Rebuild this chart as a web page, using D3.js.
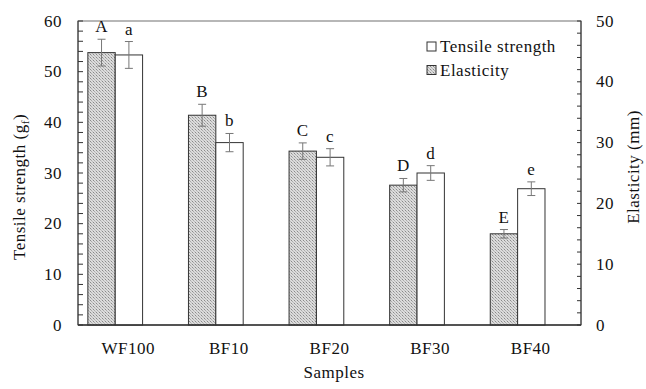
<!DOCTYPE html>
<html>
<head>
<meta charset="utf-8">
<script src="https://cdn.jsdelivr.net/npm/d3@7"></script>
<style>
  body { margin: 0; background: #fff; }
  text { font-family: "Liberation Serif", "Times New Roman", serif; fill: #111; font-size: 17px; letter-spacing: 0.5px; }
</style>
</head>
<body>
<div id="chart"></div>
<script>
// data
var samples = ["WF100", "BF10", "BF20", "BF30", "BF40"];
var elasticity = [44.8, 34.5, 28.6, 23.0, 15.0];        // mm, right axis (hatched)
var elasticityErr = [2.2, 1.8, 1.35, 1.1, 0.7];
var elasticityLetters = ["A", "B", "C", "D", "E"];
var tensile = [53.3, 36.0, 33.1, 30.0, 26.9];           // gf, left axis (white)
var tensileErr = [2.65, 1.8, 1.7, 1.45, 1.35];
var tensileLetters = ["a", "b", "c", "d", "e"];
var leftTicks = [0, 10, 20, 30, 40, 50, 60];
var rightTicks = [0, 10, 20, 30, 40, 50];

var width = 646, height = 389;
var margin = {top: 21, right: 65, bottom: 64, left: 78};
var iw = width - margin.left - margin.right;
var ih = height - margin.top - margin.bottom;

var svg = d3.select("#chart").append("svg")
    .attr("width", width).attr("height", height);

var defs = svg.append("defs");
var pat = defs.append("pattern")
    .attr("id", "hatch").attr("patternUnits", "userSpaceOnUse")
    .attr("width", 3).attr("height", 3);
pat.append("rect").attr("width", 3).attr("height", 3).attr("fill", "#dcdcdc");
pat.append("rect").attr("x", 0).attr("y", 0).attr("width", 1).attr("height", 1).attr("fill", "#8a8a8a");
pat.append("rect").attr("x", 1).attr("y", 1).attr("width", 1).attr("height", 1).attr("fill", "#aaa");
pat.append("rect").attr("x", 2).attr("y", 2).attr("width", 1).attr("height", 1).attr("fill", "#bbb");

var g = svg.append("g").attr("transform", "translate(" + margin.left + "," + margin.top + ")");

var x = d3.scaleBand().domain(samples).range([0, iw]).padding(0);
var yL = d3.scaleLinear().domain([0, 60]).range([ih, 0]);
var yR = d3.scaleLinear().domain([0, 50]).range([ih, 0]);
var bw = x.bandwidth();
var barW = bw * 0.272;
var off = bw * 0.098;

// frame
g.append("rect").attr("width", iw).attr("height", ih)
    .attr("fill", "none").attr("stroke", "#888").attr("stroke-width", 1.2);

// hatched bars (elasticity)
g.selectAll(".el").data(samples).enter().append("rect")
    .attr("x", function(d){ return x(d) + off; })
    .attr("y", function(d, i){ return yR(elasticity[i]); })
    .attr("width", barW)
    .attr("height", function(d, i){ return ih - yR(elasticity[i]); })
    .attr("fill", "url(#hatch)").attr("stroke", "#333").attr("stroke-width", 1);

// white bars (tensile)
g.selectAll(".ts").data(samples).enter().append("rect")
    .attr("x", function(d){ return x(d) + off + barW; })
    .attr("y", function(d, i){ return yL(tensile[i]); })
    .attr("width", barW)
    .attr("height", function(d, i){ return ih - yL(tensile[i]); })
    .attr("fill", "#fff").attr("stroke", "#333").attr("stroke-width", 1);

function errBar(cx, yTop, yBot) {
    var e = g.append("g").attr("stroke", "#777").attr("stroke-width", 1);
    e.append("line").attr("x1", cx).attr("x2", cx).attr("y1", yTop).attr("y2", yBot);
    e.append("line").attr("x1", cx - 4).attr("x2", cx + 4).attr("y1", yTop).attr("y2", yTop);
    e.append("line").attr("x1", cx - 4).attr("x2", cx + 4).attr("y1", yBot).attr("y2", yBot);
}

samples.forEach(function(s, i){
    var c1 = x(s) + off + barW / 2;
    var c2 = x(s) + off + barW * 1.5;
    var t1 = yR(elasticity[i] + elasticityErr[i]);
    var t2 = yL(tensile[i] + tensileErr[i]);
    errBar(c1, t1, yR(elasticity[i] - elasticityErr[i]));
    errBar(c2, t2, yL(tensile[i] - tensileErr[i]));
    g.append("text").attr("x", c1).attr("y", t1 - 7).attr("text-anchor", "middle").text(elasticityLetters[i]);
    g.append("text").attr("x", c2).attr("y", t2 - 7).attr("text-anchor", "middle").text(tensileLetters[i]);
});

// left axis
var la = g.append("g");
la.append("line").attr("x1", 0).attr("x2", 0).attr("y1", 0).attr("y2", ih).attr("stroke", "#333");
la.selectAll(".mn").data(d3.range(0, 61, 2)).enter().append("line")
    .attr("x1", 0).attr("x2", 5).attr("y1", function(d){ return yL(d); }).attr("y2", function(d){ return yL(d); })
    .attr("stroke", "#333");
la.selectAll(".lb").data(leftTicks).enter().append("text")
    .attr("x", -16).attr("y", function(d){ return yL(d) + 5.5; })
    .attr("text-anchor", "end").text(function(d){ return d; });

// right axis
var ra = g.append("g").attr("transform", "translate(" + iw + ",0)");
ra.append("line").attr("x1", 0).attr("x2", 0).attr("y1", 0).attr("y2", ih).attr("stroke", "#333");
ra.selectAll(".mn").data(d3.range(0, 51, 2)).enter().append("line")
    .attr("x1", -4).attr("x2", 0).attr("y1", function(d){ return yR(d); }).attr("y2", function(d){ return yR(d); })
    .attr("stroke", "#333");
ra.selectAll(".lb").data(rightTicks).enter().append("text")
    .attr("x", 15).attr("y", function(d){ return yR(d) + 5.5; })
    .attr("text-anchor", "start").text(function(d){ return d; });

// bottom axis
g.append("line").attr("x1", 0).attr("x2", iw).attr("y1", ih).attr("y2", ih).attr("stroke", "#333").attr("stroke-width", 1.3);
g.selectAll(".xl").data(samples).enter().append("text")
    .attr("x", function(d){ return x(d) + bw / 2; })
    .attr("y", ih + 29).attr("text-anchor", "middle").text(function(d){ return d; });

// axis titles
svg.append("text").attr("x", 334).attr("y", 378)
    .attr("text-anchor", "middle").text("Samples");
var lt = svg.append("text")
    .attr("transform", "translate(25,187) rotate(-90)")
    .attr("text-anchor", "middle");
lt.append("tspan").text("Tensile strength (g");
lt.append("tspan").attr("dy", 4).style("font-size", "11px").text("f");
lt.append("tspan").attr("dy", -4).text(")");
svg.append("text")
    .attr("transform", "translate(639,167) rotate(-90)")
    .attr("text-anchor", "middle").text("Elasticity  (mm)");

// legend
var lg = g.append("g").attr("transform", "translate(" + (427 - margin.left) + "," + (42 - margin.top) + ")");
lg.append("rect").attr("width", 9).attr("height", 9).attr("fill", "#fff").attr("stroke", "#333");
lg.append("text").attr("x", 13).attr("y", 10).text("Tensile strength");
lg.append("rect").attr("y", 23.5).attr("width", 9).attr("height", 9).attr("fill", "url(#hatch)").attr("stroke", "#333");
lg.append("text").attr("x", 13).attr("y", 33.5).text("Elasticity");
</script>
</body>
</html>
